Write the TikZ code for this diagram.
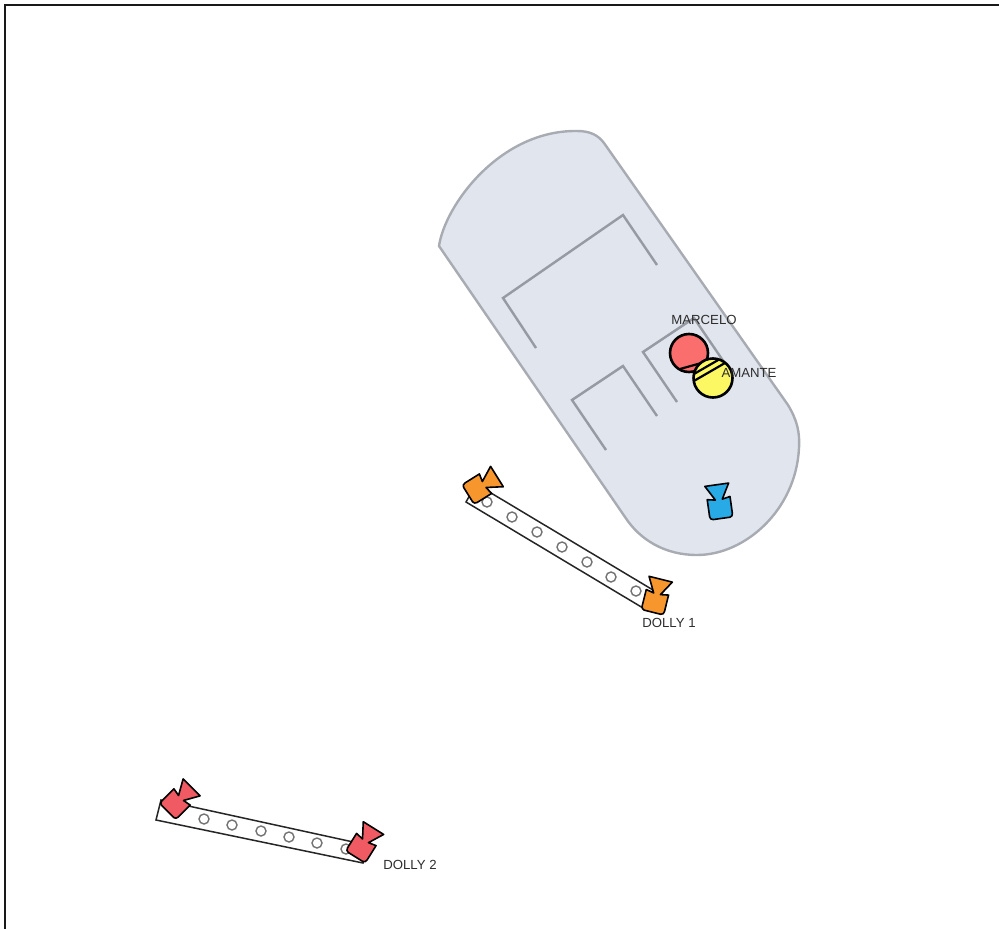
\documentclass[tikz,border=0pt]{standalone}
\usepackage{fontspec}
\setmainfont{Liberation Sans}
\definecolor{carfill}{RGB}{224,229,238}
\definecolor{caredge}{RGB}{168,172,178}
\definecolor{wallc}{RGB}{150,154,162}
\definecolor{camorange}{RGB}{247,150,45}
\definecolor{camred}{RGB}{240,90,98}
\definecolor{camblue}{RGB}{40,170,230}
\definecolor{actorred}{RGB}{250,110,110}
\definecolor{actoryellow}{RGB}{252,248,100}
\definecolor{labelc}{RGB}{45,45,45}
\tikzset{
  frameline/.style={line width=2.5pt,black!90},
  carbody/.style={draw=caredge,fill=carfill,line width=2.4pt,line join=round},
  wall/.style={draw=wallc,line width=2.4pt},
  rail/.style={draw=black!85,fill=white,line width=1.5pt},
  peg/.style={draw=black!55,fill=white,line width=1.4pt},
  camshape/.style={draw=black,line width=1.6pt,line join=round},
  actor/.style={draw=black,line width=2.6pt},
  strap/.style={draw=black,line width=2.2pt},
  lab/.style={font=\fontsize{13.2}{15}\selectfont,text=labelc,inner sep=0pt},
  pics/cam/.style={code={
    \path[camshape,fill=#1]
      (11.5,-10) -- (3.5,-8.5) -- (12,-23.5) -- (-12,-23.5) -- (-3.5,-8.5) -- (-11.5,-10)
      -- (-11.5,7) to[out=-90,in=180] (-8.5,10.5) -- (8.5,10.5) to[out=0,in=-90] (11.5,7) -- cycle;
  }}
}
\begin{document}
\begin{tikzpicture}[x=1pt,y=-1pt]
\useasboundingbox (0,0) rectangle (999,929);
\coordinate (fa) at (5,929);
\coordinate (fb) at (5,5);
\coordinate (fc) at (999,5);
\draw[frameline] (fa) -- (fb) -- (fc);

\path[carbody] (439,246)
  .. controls (445,205) and (500,130) .. (577,131)
  .. controls (590,131) and (598,135) .. (604,143)
  -- (788,405)
  .. controls (797,420) and (800,432) .. (799,448)
  .. controls (796,510) and (745,555) .. (697,555)
  .. controls (665,555) and (640,540) .. (625,517)
  -- cycle;

\draw[wall] (657,265) -- (623,215) -- (503,298) -- (536,348);
\draw[wall] (606,450) -- (572,400) -- (623,366) -- (657,416);
\draw[wall] (677,402) -- (643,352) -- (694,318) -- (728,368);

\draw[rail] (466,502) -- (643,608) -- (653,590) -- (476,484) -- cycle;
\foreach \px/\py in {487/502,512/517,537/532,562/547,587/562,611/577,636/591}
  \node[peg,circle,minimum size=10pt,inner sep=0pt] (p\px) at (\px,\py) {};
\draw[rail] (156,820) -- (363,863) -- (367,845) -- (161,800) -- cycle;
\foreach \px/\py in {204/819,232/825,261/831,289/837,317/843,346/849}
  \node[peg,circle,minimum size=10pt,inner sep=0pt] (q\px) at (\px,\py) {};

\pic[shift={(477,489)},rotate=-58] {cam=camorange};
\pic[shift={(655,602)},rotate=-14] {cam=camorange};
\pic[shift={(720,508)},rotate=8] {cam=camblue};
\pic[shift={(175,804)},rotate=-45] {cam=camred};
\pic[shift={(361,848)},rotate=-32] {cam=camred};

\draw[actor,fill=actorred] (689,353) circle[radius=19];
\draw[strap] (680,369) -- (705,362);
\fill[actoryellow] (713,378) circle[radius=19.5];
\begin{scope}
  \clip (713,378) circle[radius=19.5];
  \begin{scope}[shift={(713,378)},rotate=30]
    \draw[strap] (-25,-7) -- (25,-7);
    \draw[strap] (-25,-13) -- (25,-13);
  \end{scope}
\end{scope}
\draw[actor] (713,378) circle[radius=19.5];

\node[lab] (marcelo) at (704,320) {MARCELO};
\node[lab] (amante) at (749,373) {AMANTE};
\node[lab] (dolly1) at (669,623) {DOLLY 1};
\node[lab] (dolly2) at (410,865) {DOLLY 2};
\end{tikzpicture}
\end{document}
